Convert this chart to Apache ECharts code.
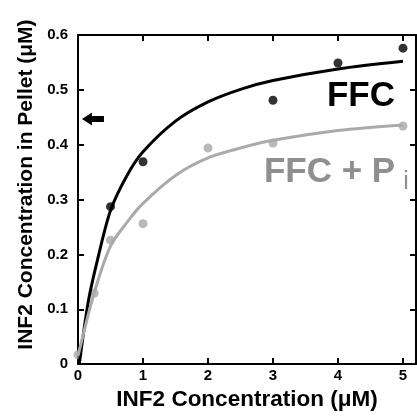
<!DOCTYPE html>
<html>
<head>
<meta charset="utf-8">
<script src="https://cdn.jsdelivr.net/npm/echarts@6/dist/echarts.min.js"></script>
<style>
  html, body { margin: 0; padding: 0; background: #fff; }
  #chart { width: 417px; height: 416px; }
</style>
</head>
<body>
<div id="chart"></div>
<script>
// measured points
const ffcX = [0.5, 1, 3, 4, 5];
const ffcY = [0.287, 0.369, 0.481, 0.549, 0.576];
const piX = [0, 0.25, 0.5, 1, 2, 3, 5];
const piY = [0.017, 0.129, 0.226, 0.256, 0.394, 0.403, 0.434];

// fitted curves
const ffcFitX = [0.02, 0.16, 0.3, 0.5, 0.75, 1, 1.5, 2, 2.5, 3, 4, 5];
const ffcFitY = [0, 0.115, 0.19, 0.28, 0.343, 0.387, 0.443, 0.478, 0.501, 0.517, 0.538, 0.552];
const piFitX = [0, 0.25, 0.5, 0.75, 1, 1.5, 2, 2.5, 3, 4, 5];
const piFitY = [0.015, 0.13, 0.215, 0.258, 0.293, 0.344, 0.376, 0.394, 0.408, 0.426, 0.436];

// annotations
const arrowAt = [0.23, 0.447];
const ffcLabelAt = [3.83, 0.489];
const piLabelAt = [2.86, 0.35];

const zip = (xs, ys) => xs.map((x, i) => [x, ys[i]]);

const font = "Liberation Sans";
const grey = "#aaaaaa";

const chart = echarts.init(document.getElementById("chart"));

const frameAxis = {
    axisLine: { show: true, onZero: false, lineStyle: { color: "#000", width: 2 } },
    axisTick: { show: true, inside: true, length: 6, lineStyle: { color: "#000", width: 2 } },
    splitLine: { show: false },
};

const option = {
    animation: false,
    textStyle: { fontFamily: font },
    grid: { left: 78, right: 1, top: 35, bottom: 48 },
    xAxis: [
        {
            type: "value", min: 0, max: 5.2, interval: 1,
            ...frameAxis,
            axisLabel: {
                color: "#000", fontWeight: "bold", fontSize: 15, margin: 4,
                showMaxLabel: false,
            },
            name: "INF2 Concentration (\u03bcM)",
            nameLocation: "middle", nameGap: 22,
            nameTextStyle: { color: "#000", fontWeight: "bold", fontSize: 22.5, fontFamily: font },
        },
        {
            type: "value", min: 0, max: 5.2, interval: 1, position: "top",
            ...frameAxis,
            axisLabel: { show: false },
        },
    ],
    yAxis: [
        {
            type: "value", min: 0, max: 0.6, interval: 0.1,
            ...frameAxis,
            axisLabel: {
                color: "#000", fontWeight: "bold", fontSize: 15, margin: 10,
                formatter: (v) => (v === 0 ? "0" : v.toFixed(1)),
            },
            name: "INF2 Concentration in Pellet (\u03bcM)",
            nameLocation: "middle", nameGap: 41,
            nameTextStyle: {
                color: "#000", fontWeight: "bold", fontSize: 21, fontFamily: font,
                padding: [0, 0, 0, 30],
            },
        },
        {
            type: "value", min: 0, max: 0.6, interval: 0.1, position: "right",
            ...frameAxis,
            axisLabel: { show: false },
        },
    ],
    series: [
        {
            type: "line",
            data: zip(ffcFitX, ffcFitY),
            smooth: 0.3,
            showSymbol: false,
            lineStyle: { color: "#000", width: 3 },
            markPoint: {
                silent: true,
                data: [
                    {
                        coord: arrowAt,
                        symbol: "path://M0,6.5 L10,0 L10,3.5 L22,3.5 L22,9.5 L10,9.5 L10,13 Z",
                        symbolSize: [22, 13],
                        itemStyle: { color: "#000" },
                        label: { show: false },
                    },
                    {
                        coord: ffcLabelAt,
                        symbolSize: 0,
                        label: {
                            show: true, position: "right", distance: 0,
                            formatter: "FFC",
                            color: "#000", fontWeight: "bold", fontSize: 35, fontFamily: font,
                        },
                    },
                    {
                        coord: piLabelAt,
                        symbolSize: 0,
                        label: {
                            show: true, position: "right", distance: 0,
                            formatter: "{a|FFC + P}{s|i}",
                            rich: {
                                a: { color: "#8f8f8f", fontWeight: "bold", fontSize: 35, fontFamily: font },
                                s: { color: "#8f8f8f", fontSize: 25, fontFamily: font, padding: [20, 0, 0, 8] },
                            },
                        },
                    },
                ],
            },
        },
        {
            type: "line",
            data: zip(piFitX, piFitY),
            smooth: 0.3,
            showSymbol: false,
            lineStyle: { color: grey, width: 3 },
        },
        {
            type: "scatter",
            data: zip(ffcX, ffcY),
            symbolSize: 9,
            itemStyle: { color: "#000" },
        },
        {
            type: "scatter",
            data: zip(piX, piY),
            symbolSize: 9,
            itemStyle: { color: "#a8a8a8" },
        },
    ],
};

chart.setOption(option);
</script>
</body>
</html>
